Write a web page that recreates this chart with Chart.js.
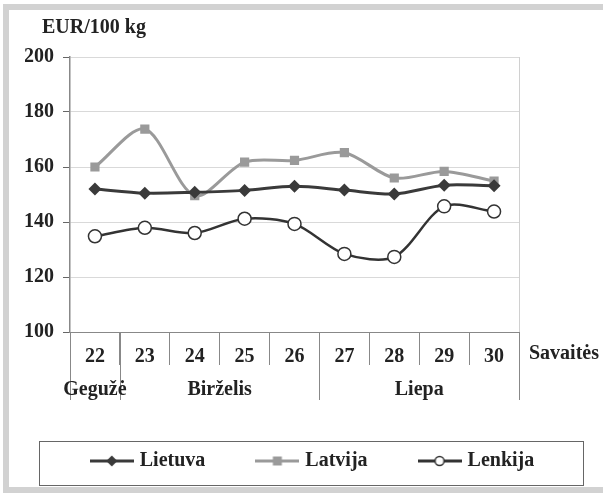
<!DOCTYPE html>
<html>
<head>
<meta charset="utf-8">
<script src="https://cdn.jsdelivr.net/npm/chart.js@4.4.0/dist/chart.umd.min.js"></script>
<style>
  body { margin: 0; background: #fff; }
  #wrap { position: relative; width: 603px; height: 493px; }
  #frame { position: absolute; left: 3px; top: 4px; width: 600px; height: 477px;
           border: 6px solid #d2d2d2; border-right: none; pointer-events: none; }
</style>
</head>
<body>
<div id="wrap">
  <canvas id="chart" width="603" height="493"></canvas>
  <div id="frame"></div>
</div>
<script>
// data
const weeks = ['22', '23', '24', '25', '26', '27', '28', '29', '30'];
const lietuva = [152, 150.5, 150.8, 151.5, 153, 151.6, 150.2, 153.4, 153.2];
const latvija = [160, 173.8, 149.6, 161.8, 162.4, 165.2, 156, 158.4, 154.9];
const lenkija = [134.8, 137.9, 136, 141.2, 139.3, 128.4, 127.3, 145.7, 143.8];
const yTicks = [100, 120, 140, 160, 180, 200];

// month row under the week numbers (index of first / last week)
const months = ['Gegužė', 'Birželis', 'Liepa'];
const monthFirst = [0, 1, 5];
const monthLast = [0, 4, 8];

const FONT = '"Liberation Serif", "Times New Roman", serif';

// little line+marker pictures for the legend
function legendMarker(shape, lineColor, fill) {
    const c = document.createElement('canvas');
    c.width = 44; c.height = 14;
    const g = c.getContext('2d');
    g.strokeStyle = lineColor;
    g.lineWidth = 3;
    g.beginPath(); g.moveTo(0, 7); g.lineTo(44, 7); g.stroke();
    g.fillStyle = fill;
    g.lineWidth = 1.5;
    g.beginPath();
    if (shape === 'diamond') {
        g.moveTo(22, 1.5); g.lineTo(27.5, 7); g.lineTo(22, 12.5); g.lineTo(16.5, 7); g.closePath(); g.fill();
    } else if (shape === 'square') {
        g.rect(17.5, 2.5, 9, 9); g.fill();
    } else {
        g.arc(22, 7, 4.5, 0, Math.PI * 2); g.fill(); g.stroke();
    }
    return c;
}

const markers = [
    legendMarker('diamond', '#3a3a3a', '#3a3a3a'),
    legendMarker('square', '#9a9a9a', '#9a9a9a'),
    legendMarker('circle', '#333333', '#ffffff')
];

const extras = {
    id: 'extras',
    afterDraw(chart) {
        const { ctx, chartArea: a, scales: { x } } = chart;
        ctx.save();
        // right edge of the plot
        ctx.strokeStyle = '#d0d0d0';
        ctx.lineWidth = 1;
        ctx.beginPath();
        ctx.moveTo(Math.round(a.right) + 0.5, a.top);
        ctx.lineTo(Math.round(a.right) + 0.5, a.bottom);
        ctx.stroke();

        // month separators + labels
        ctx.strokeStyle = '#888';
        const bounds = monthFirst.map(i => i - 0.5).concat([monthLast[monthLast.length - 1] + 0.5]);
        bounds.forEach(b => {
            const px = Math.round(x.getPixelForValue(b)) + 0.5;
            ctx.beginPath();
            ctx.moveTo(px, a.bottom);
            ctx.lineTo(px, a.bottom + 68);
            ctx.stroke();
        });
        ctx.fillStyle = '#222';
        ctx.font = 'bold 20px ' + FONT;
        ctx.textAlign = 'center';
        ctx.textBaseline = 'middle';
        months.forEach((m, i) => {
            const cx = x.getPixelForValue((monthFirst[i] + monthLast[i]) / 2);
            ctx.fillText(m, cx, a.bottom + 58);
        });

        // axis captions
        ctx.textAlign = 'left';
        ctx.fillText('Savaitės', a.right + 10, a.bottom + 22);
        ctx.fillText('EUR/100 kg', 42, 28);

        // legend frame
        ctx.strokeStyle = '#666';
        ctx.lineWidth = 1;
        ctx.strokeRect(39.5, 441.5, 544, 44);
        ctx.restore();
    }
};

new Chart(document.getElementById('chart'), {
    type: 'line',
    data: {
        labels: weeks,
        datasets: [{
            label: 'Lietuva',
            data: lietuva,
            borderColor: '#3a3a3a',
            backgroundColor: '#3a3a3a',
            borderWidth: 3,
            pointStyle: 'rectRot',
            pointRadius: 6.5,
            pointBorderWidth: 0,
            tension: 0.3
        }, {
            label: 'Latvija',
            data: latvija,
            borderColor: '#9a9a9a',
            backgroundColor: '#9a9a9a',
            borderWidth: 3,
            pointStyle: 'rect',
            pointRadius: 6.5,
            pointBorderWidth: 0,
            tension: 0.3
        }, {
            label: 'Lenkija',
            data: lenkija,
            borderColor: '#333333',
            backgroundColor: '#ffffff',
            borderWidth: 2.5,
            pointStyle: 'circle',
            pointRadius: 6.5,
            pointBorderWidth: 1.5,
            tension: 0.3
        }]
    },
    options: {
        responsive: false,
        animation: false,
        layout: { padding: { top: 57, left: 25, right: 0, bottom: 12 } },
        plugins: {
            tooltip: { enabled: false },
            legend: {
                position: 'bottom',
                labels: {
                    usePointStyle: true,
                    pointStyleWidth: 36,
                    padding: 54,
                    color: '#222',
                    font: { family: FONT, size: 20, weight: 'bold' },
                    generateLabels(chart) {
                        const items = Chart.defaults.plugins.legend.labels.generateLabels(chart);
                        items.forEach((it, i) => { it.pointStyle = markers[i]; });
                        return items;
                    }
                }
            }
        },
        scales: {
            x: {
                offset: true,
                afterFit(s) { s.height = 65; },
                grid: {
                    offset: true,
                    drawOnChartArea: false,
                    tickLength: 33,
                    color: '#888'
                },
                border: { color: '#888', width: 1 },
                ticks: {
                    padding: -20,
                    color: '#222',
                    font: { family: FONT, size: 20, weight: 'bold' }
                }
            },
            y: {
                min: 100,
                max: 200,
                afterFit(s) { s.width = 45; },
                afterBuildTicks(s) { s.ticks = yTicks.map(v => ({ value: v })); },
                grid: { color: '#d9d9d9', tickColor: '#666', tickLength: 7 },
                border: { color: '#888', width: 1.5 },
                ticks: {
                    padding: 9,
                    color: '#222',
                    font: { family: FONT, size: 20, weight: 'bold' }
                }
            },
            // empty strip on the right that holds the "Savaitės" caption
            side: {
                position: 'right',
                min: 100,
                max: 200,
                afterFit(s) { s.width = 84; },
                grid: { display: false },
                border: { display: false },
                ticks: { display: false }
            }
        }
    },
    plugins: [extras]
});
</script>
</body>
</html>
